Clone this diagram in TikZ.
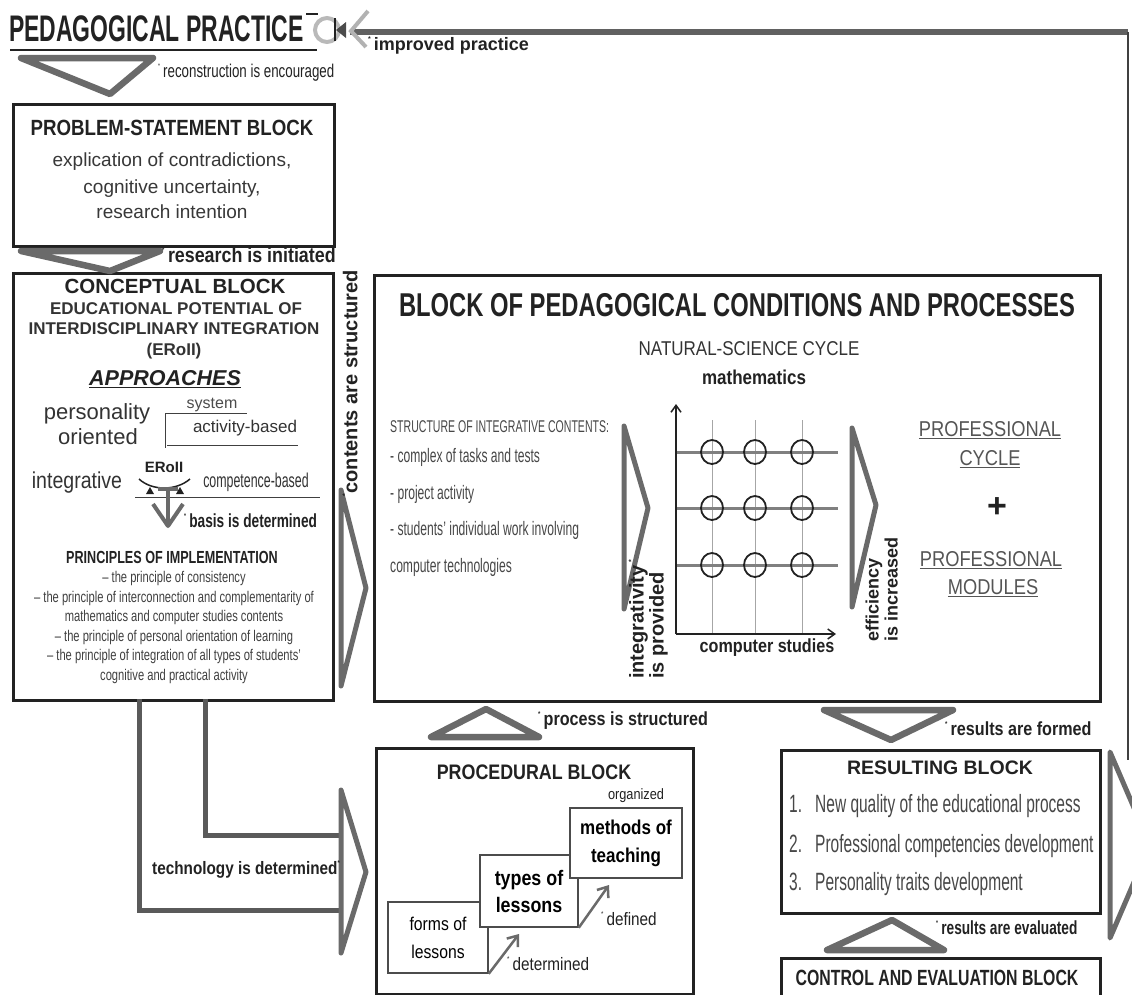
\documentclass[tikz,border=0pt]{standalone}
\usepackage{fontspec}
\setmainfont{Liberation Sans}
\newfontfamily\wfont{Liberation Sans}
\newfontfamily\sfont{Liberation Sans}[FakeStretch=0.85]
\newfontfamily\cfont{Liberation Sans}[FakeStretch=0.72]
\newfontfamily\nfont{Liberation Sans}[FakeStretch=0.62]
\usetikzlibrary{arrows.meta}
\newcommand\fsz[1]{\fontsize{#1}{#1}\selectfont}
\newcommand\smark{\raisebox{0.5em}{\fontsize{7}{7}\selectfont *}}
\definecolor{ink}{HTML}{222222}
\definecolor{arrgray}{HTML}{6A6A6A}
\definecolor{txtgray}{HTML}{555555}
\tikzset{
  blk/.style={draw=ink, line width=2.5pt, fill=white, inner sep=0pt},
  tri/.style={draw=arrgray, line width=6.5pt, line join=round, fill=white},
  shaft/.style={draw=arrgray!85!black, line width=5pt},
  lessonbox/.style={draw=black!70, line width=1.5pt, fill=white, inner sep=0pt, align=center},
  lbl/.style={inner sep=0pt, text=ink},
  guide/.style={draw=black!75, line width=1pt},
  lessonarr/.style={draw=arrgray, line width=2.5pt, -{Straight Barb[length=9pt,width=14pt]}},
}

\begin{document}
\begin{tikzpicture}[x=1pt, y=-1pt]
  \useasboundingbox (0,0) rectangle (1132,994);
  % feedback loop: results back to practice
  \coordinate (fbR) at (1128,32);
  \coordinate (fbB) at (1128,760);
  \draw[line width=6pt, draw=black!62] (350,32) -- (fbR);
  \draw[line width=2pt, draw=black!75] (fbR) -- (fbB);

  % title
  \node[lbl, anchor=west, font=\nfont\bfseries\fsz{37}] (practice) at (9,29) {PEDAGOGICAL PRACTICE};
  \draw[line width=2pt, ink] (10,50) -- (317,50);
  \draw[line width=1.5pt, ink] (306,14) -- (318,14);
  \draw[line width=4pt, gray!55] (327,30) circle (12pt);
  \draw[line width=1.5pt, ink] (335,18) -- (335,41);
  \fill[black!70] (336,30) -- (346,22) -- (346,38) -- cycle;
  \draw[line width=4pt, gray!60] (368,11) -- (351,31) -- (366,47);
  \node[lbl, anchor=mid west, font=\wfont\bfseries\fsz{18}] (improved) at (368,48) {\smark\,improved practice};

  % blocks
  \node[blk, anchor=north west, minimum width=321pt, minimum height=142pt] (ps) at (12,103) {};
  \node[blk, anchor=north west, minimum width=320pt, minimum height=427pt] (concept) at (12,272) {};
  \node[blk, anchor=north west, minimum width=726pt, minimum height=426pt] (cond) at (373,274) {};
  \node[blk, anchor=north west, minimum width=317pt, minimum height=246pt] (proc) at (375,747) {};
  \node[blk, anchor=north west, minimum width=319pt, minimum height=163pt] (res) at (780,749) {};
  \node[blk, anchor=north west, minimum width=319pt, minimum height=60pt] (ctrl) at (780,957) {};

  % block arrows
  \draw[tri] (21,58) -- (153,58) -- (110,94) -- cycle;
  \draw[tri] (21,251) -- (160,251) -- (110,271) -- cycle;
  \draw[tri, line width=5pt] (341,490) -- (341,686) -- (366,588) -- cycle;
  \draw[tri] (431,737) -- (539,737) -- (486,709) -- cycle;
  \draw[tri] (824,710) -- (953,710) -- (891,740) -- cycle;
  \draw[tri] (827,950) -- (944,950) -- (892,920) -- cycle;
  \draw[tri, line width=5pt] (1110,752) -- (1110,938) -- (1150,845) -- cycle;

  \node[lbl, anchor=mid west, font=\cfont\fsz{18.5}] (recon) at (158,75) {\smark\,reconstruction is encouraged};
  \node[lbl, anchor=mid west, font=\sfont\bfseries\fsz{21}] (initiated) at (162,260) {\smark\,research is initiated};

  % problem-statement block
  \node[lbl, font=\sfont\bfseries\fsz{22}] (pstitle) at (172,128) {PROBLEM-STATEMENT BLOCK};
  \foreach \y/\t [count=\i] in {164/{explication of contradictions,}, 191/{cognitive uncertainty,}, 216/{research intention}}
    \node[lbl, anchor=mid, font=\wfont\fsz{19}, text=black!78] (psl\i) at (172,\y) {\t};

  % conceptual block
  \node[lbl, font=\wfont\bfseries\fsz{20.5}] (cbtitle) at (175,286) {CONCEPTUAL BLOCK};
  \node[lbl, font=\wfont\bfseries\fsz{17}, text=black!80] (edu1) at (176,309) {EDUCATIONAL POTENTIAL OF};
  \node[lbl, font=\wfont\bfseries\fsz{17}, text=black!80] (edu2) at (174,329) {INTERDISCIPLINARY INTEGRATION};
  \node[lbl, font=\wfont\bfseries\fsz{17}, text=black!80] (edu3) at (174,351) {(ERoII)};
  \node[lbl, font=\wfont\bfseries\itshape\fsz{21.5}] (appr) at (165,379) {\underline{APPROACHES}};
  \node[lbl, anchor=mid, font=\wfont\fsz{22}, text=black!80] (pers) at (97,417) {personality};
  \node[lbl, anchor=mid, font=\wfont\fsz{22}, text=black!80] (orient) at (98,442) {oriented};
  \node[lbl, anchor=mid, font=\wfont\fsz{16}, text=black!70] (sys) at (212,406) {system};
  \node[lbl, anchor=mid, font=\wfont\fsz{17}, text=black!80] (actb) at (245,430) {activity-based};
  \draw[guide] (165,413) -- (247,413);
  \draw[guide] (165,413) -- (165,448);
  \draw[guide] (167,445) -- (298,445);
  \node[lbl, font=\wfont\bfseries\fsz{15}] (eroii) at (164,467) {ERoII};
  \node[lbl, anchor=mid, font=\sfont\fsz{23}, text=black!80] (integr) at (77,486) {integrative};
  \node[lbl, anchor=mid, font=\nfont\fsz{20}, text=black!80] (compb) at (256,485) {competence-based};
  \draw[line width=1.5pt, ink] (139,479) .. controls (152,491) and (176,491) .. (190,479);
  \fill[ink] (146,494) -- (154,494) -- (150,487) -- cycle;
  \fill[ink] (176,494) -- (184,494) -- (180,487) -- cycle;
  \draw[guide] (135,497) -- (320,497);
  \draw[line width=4pt, arrgray] (158,489) -- (178,489);
  \draw[line width=4pt, arrgray] (168,489) -- (168,522);
  \draw[line width=4pt, arrgray, line join=round] (153,504) -- (168,526) -- (183,504);
  \node[lbl, anchor=mid west, font=\cfont\bfseries\fsz{19}] (basis) at (184,525) {\smark\,basis is determined};
  \node[lbl, font=\cfont\bfseries\fsz{17.5}] (princ) at (172,557) {PRINCIPLES OF IMPLEMENTATION};
  \foreach \y/\t [count=\i] in {580/{– the principle of consistency},
      600/{– the principle of interconnection and complementarity of},
      619/{mathematics and computer studies contents},
      639/{– the principle of personal orientation of learning},
      658/{– the principle of integration of all types of students’},
      678/{cognitive and practical activity}}
    \node[lbl, anchor=mid, font=\cfont\fsz{15.5}, text=black!75] (pl\i) at (174,\y) {\t};
  \node[lbl, rotate=90, font=\wfont\bfseries\fsz{20}] (contents) at (350,383) {\smark contents are structured};

  % block of conditions and processes
  \node[lbl, font=\cfont\bfseries\fsz{33}] (condtitle) at (737,305) {BLOCK OF PEDAGOGICAL CONDITIONS AND PROCESSES};
  \node[lbl, font=\sfont\fsz{20}, text=black!80] (nsc) at (749,349) {NATURAL-SCIENCE CYCLE};
  \node[lbl, anchor=mid, font=\sfont\bfseries\fsz{20}] (math) at (754,382) {mathematics};
  \node[lbl, anchor=west, font=\nfont\fsz{17}, text=black!72] (struct) at (390,427) {STRUCTURE OF INTEGRATIVE CONTENTS:};
  \foreach \y/\t [count=\i] in {460/{- complex of tasks and tests}, 497/{- project activity},
      533/{- students’ individual work involving}, 570/{computer technologies}}
    \node[lbl, anchor=mid west, font=\nfont\fsz{19.5}, text=black!72] (sl\i) at (390,\y) {\t};
  \draw[tri, line width=5pt] (624,426) -- (624,609) -- (648,508) -- cycle;
  \draw[tri, line width=5pt] (852,428) -- (852,607) -- (876,505) -- cycle;
  % integration grid
  \foreach \gx in {712,755,802}
    \draw[gray!70, line width=1pt] (\gx,420) -- (\gx,634);
  \foreach \gy in {452,508,565}
    \draw[black!50, line width=3pt] (676,\gy) -- (838,\gy);
  \draw[line width=1.5pt, ink, -{Straight Barb[length=7pt,width=10pt]}] (676,634) -- (676,404);
  \draw[line width=1.5pt, ink, -{Straight Barb[length=7pt,width=10pt]}] (676,634) -- (836,634);
  \foreach \gx in {712,755,802}
    \foreach \gy in {452,508,565}
      \draw[line width=1.8pt, ink] (\gx,\gy) ellipse (11pt and 12pt);
  \node[lbl, anchor=mid, font=\sfont\bfseries\fsz{19}] (cs) at (767,650) {computer studies};
  \node[lbl, rotate=90, anchor=mid west, font=\wfont\bfseries\fsz{20}] (integ1) at (641,679) {integrativity\,\smark};
  \node[lbl, rotate=90, anchor=mid west, font=\wfont\bfseries\fsz{20}] (integ2) at (661,679) {is provided};
  \node[lbl, rotate=90, anchor=mid west, font=\wfont\bfseries\fsz{18}] (eff1) at (876,642) {efficiency};
  \node[lbl, rotate=90, anchor=mid west, font=\wfont\bfseries\fsz{18}] (eff2) at (895,642) {is increased};
  \node[lbl, font=\sfont\fsz{21.5}, text=txtgray] (prof1) at (990,430) {\underline{PROFESSIONAL}};
  \node[lbl, font=\sfont\fsz{21.5}, text=txtgray] (prof2) at (990,459) {\underline{CYCLE}};
  \node[lbl, font=\wfont\bfseries\fsz{34}] (plus) at (997,508) {+};
  \node[lbl, font=\sfont\fsz{21.5}, text=txtgray] (prof3) at (991,560) {\underline{PROFESSIONAL}};
  \node[lbl, font=\sfont\fsz{21.5}, text=txtgray] (prof4) at (993,588) {\underline{MODULES}};

  \node[lbl, anchor=mid west, font=\sfont\bfseries\fsz{19}] (procstr) at (538,723) {\smark\,process is structured};
  \node[lbl, anchor=mid west, font=\sfont\bfseries\fsz{19}] (resform) at (945,733) {\smark\,results are formed};

  % procedural block
  \node[lbl, font=\sfont\bfseries\fsz{21}] (proctitle) at (534,772) {PROCEDURAL BLOCK};
  \node[lbl, anchor=mid, font=\sfont\fsz{15}] (org) at (636,797) {organized};
  \node[lessonbox, minimum width=100pt, minimum height=71pt, font=\sfont\fontsize{18.5}{28}\selectfont] (forms) at (438,937.5) {forms of\\lessons};
  \node[lessonbox, minimum width=98pt, minimum height=72pt, font=\sfont\bfseries\fontsize{21}{27}\selectfont] (types) at (529,891) {types of\\lessons};
  \node[lessonbox, minimum width=112pt, minimum height=70pt, font=\sfont\bfseries\fontsize{20}{28}\selectfont] (methods) at (626,843) {methods of\\teaching};
  \coordinate (detTip) at (519,934);
  \coordinate (defTip) at (609,885);
  \draw[lessonarr] (forms.south east) -- (detTip);
  \draw[lessonarr] (types.south east) -- (defTip);
  \node[lbl, anchor=mid west, font=\sfont\fsz{18}] (detl) at (507,968) {\smark\,determined};
  \node[lbl, anchor=mid west, font=\sfont\fsz{18}] (defl) at (601,923) {\smark\,defined};

  % technology connector
  \coordinate (tOut) at (139,699);
  \coordinate (tIn) at (205,699);
  \draw[shaft] (tOut) |- (341,910);
  \draw[shaft] (tIn) |- (341,835);
  \draw[tri, line width=5pt] (341,790) -- (341,953) -- (366,872) -- cycle;
  \node[lbl, anchor=mid west, font=\sfont\bfseries\fsz{18}] (tech) at (152,872) {technology is determined\smark};

  % resulting block
  \node[lbl, font=\wfont\bfseries\fsz{19.5}] (restitle) at (940,768) {RESULTING BLOCK};
  \foreach \y/\n/\t [count=\i] in {810/1./New quality of the educational process,
      850/2./Professional competencies development, 888/3./Personality traits development} {
    \node[lbl, anchor=mid west, font=\nfont\fsz{25}, text=black!72] (rn\i) at (789,\y) {\n};
    \node[lbl, anchor=mid west, font=\nfont\fsz{25}, text=black!72] (rt\i) at (815,\y) {\t};
  }
  \node[lbl, anchor=mid west, font=\cfont\bfseries\fsz{19}] (reseval) at (936,932) {\smark\,results are evaluated};
  \node[lbl, font=\cfont\bfseries\fsz{22}] (ctrltitle) at (937,978) {CONTROL AND EVALUATION BLOCK};
\end{tikzpicture}
\end{document}
